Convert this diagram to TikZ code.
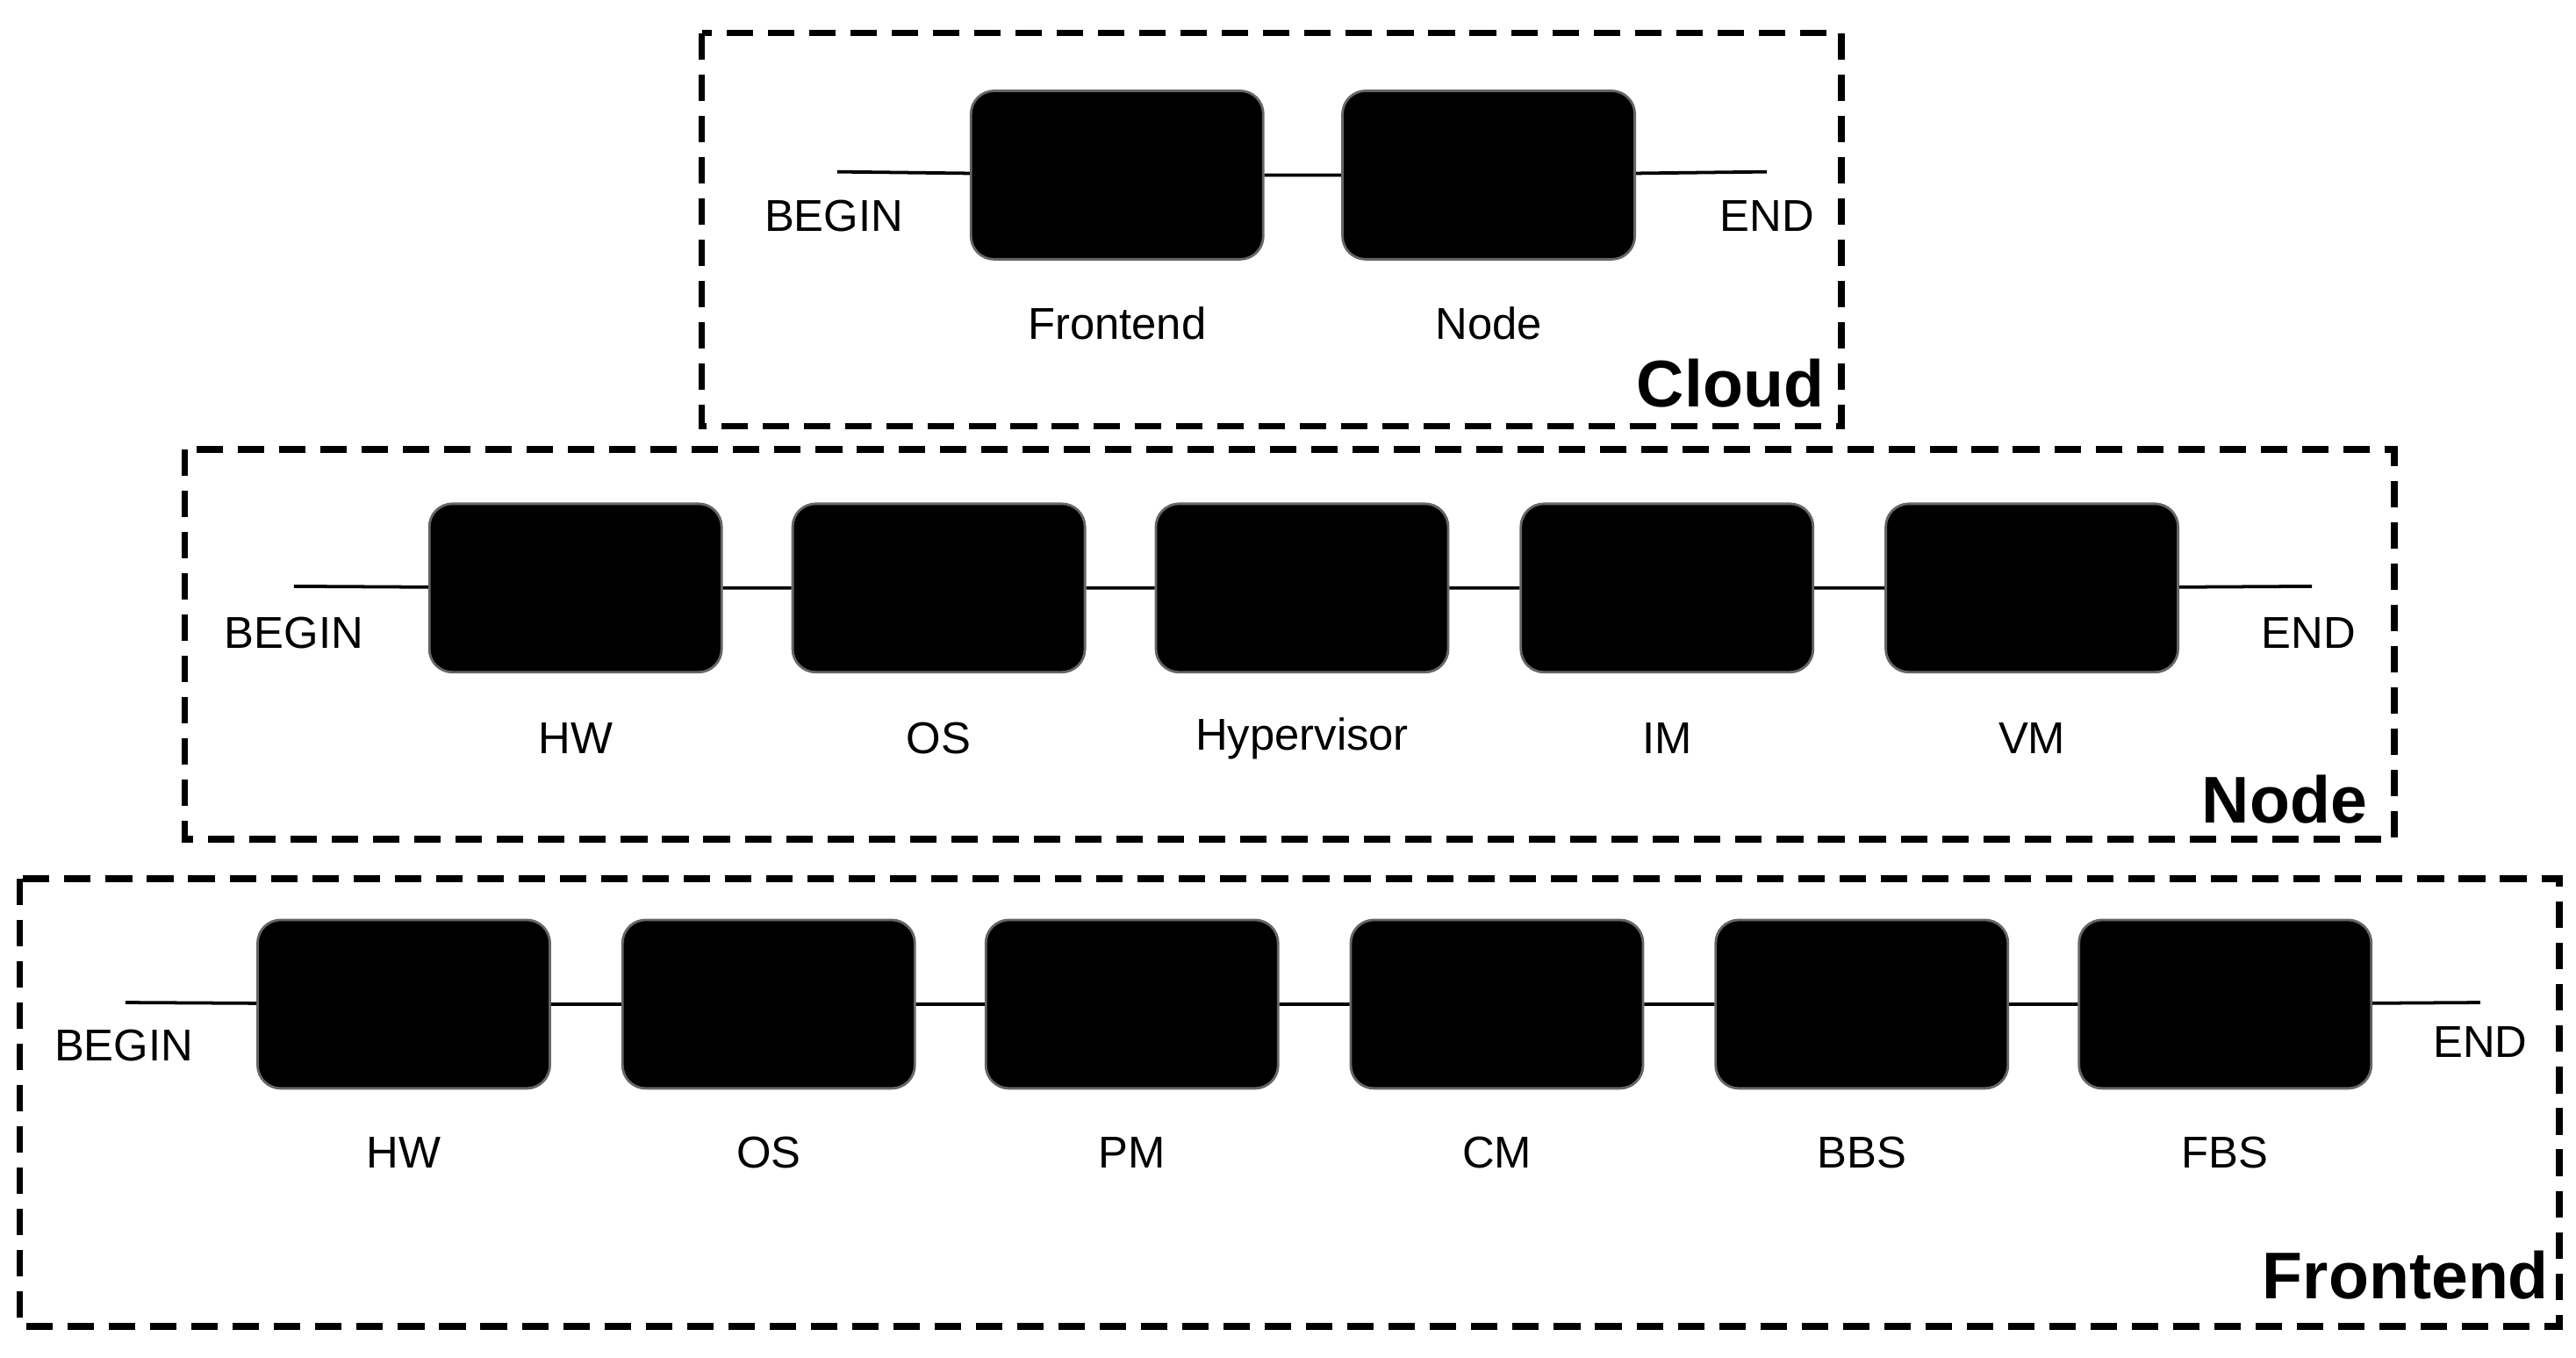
\documentclass[tikz,border=0pt]{standalone}
\usepackage{fontspec}
\setmainfont{Liberation Sans}
\begin{document}
\begin{tikzpicture}[x=1pt,y=-1pt,
 blk/.style={draw=black!60,fill=black,rounded corners=14pt,line width=1.5pt,minimum width=177pt,minimum height=102pt,inner sep=0pt},
 grp/.style={draw,line width=4pt,dash pattern=on 16pt off 9pt},
 lbl/.style={font=\fontsize{27}{30}\selectfont},
 ttl/.style={font=\fontsize{40}{44}\selectfont\bfseries,anchor=east},
 wire/.style={line width=2pt}]
\useasboundingbox (0,0) rectangle (1560,822);
% Cloud
\draw[grp] (425,20) rectangle (1115,258);
\coordinate (cb) at (507,104); \coordinate (ce) at (1070,104);
\node[blk] (c1) at (676.5,106) {};
\node[blk] (c2) at (901.5,106) {};
\draw[wire] (cb) -- (c1) -- (c2) -- (ce);
\node[lbl] (cbt) at (505,131) {BEGIN};
\node[lbl] (cet) at (1070,131) {END};
\node[lbl] (c1t) at (676.5,196) {Frontend};
\node[lbl] (c2t) at (901.5,196) {Node};
\node[ttl] (ct) at (1108,232) {Cloud};
% Node
\draw[grp] (112,272) rectangle (1450,508);
\coordinate (nb) at (178,355); \coordinate (ne) at (1400,355);
\foreach \i/\x/\t in {1/348.5/HW,2/568.5/OS,3/788.5/Hypervisor,4/1009.5/IM,5/1230.5/VM}{
 \node[blk] (n\i) at (\x,356) {};
 \node[lbl] (n\i t) at (\x,447) {\t};}
\draw[wire] (nb) -- (n1) -- (n2) -- (n3) -- (n4) -- (n5) -- (ne);
\node[lbl] (nbt) at (178,383) {BEGIN};
\node[lbl] (net) at (1398,383) {END};
\node[ttl] (nt) at (1437,484) {Node};
% Frontend
\draw[grp] (12,532) rectangle (1550,803);
\coordinate (fb) at (76,607); \coordinate (fe) at (1502,607);
\foreach \i/\x/\t in {1/244.5/HW,2/465.5/OS,3/685.5/PM,4/906.5/CM,5/1127.5/BBS,6/1347.5/FBS}{
 \node[blk] (f\i) at (\x,608) {};
 \node[lbl] (f\i t) at (\x,698) {\t};}
\draw[wire] (fb) -- (f1) -- (f2) -- (f3) -- (f4) -- (f5) -- (f6) -- (fe);
\node[lbl] (fbt) at (75,633) {BEGIN};
\node[lbl] (fet) at (1502,631) {END};
\node[ttl] (ft) at (1547,772) {Frontend};
\end{tikzpicture}
\end{document}
